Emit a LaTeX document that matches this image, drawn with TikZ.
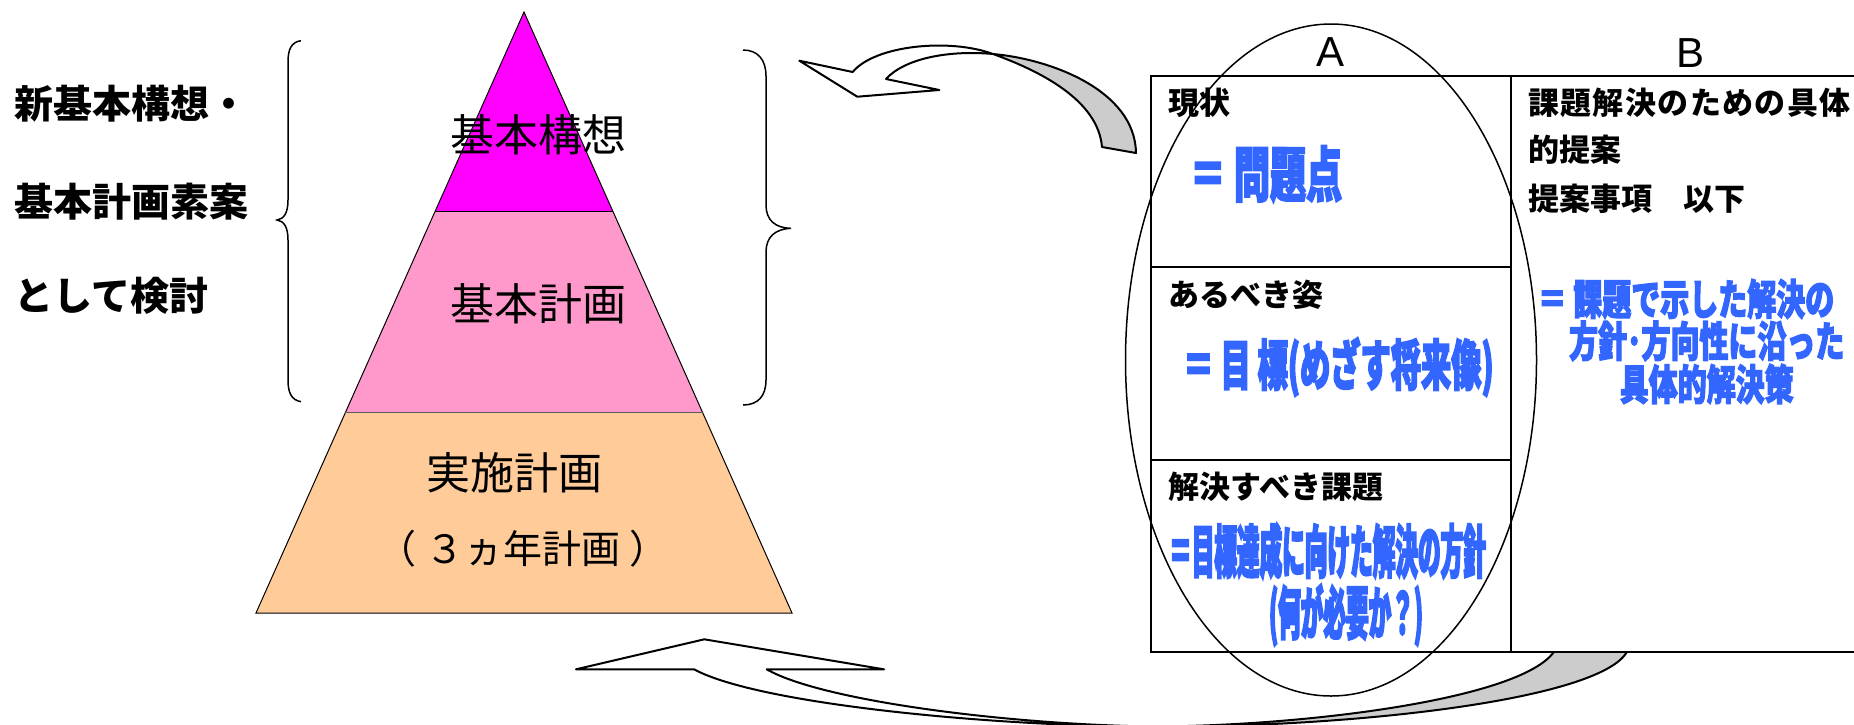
\documentclass[tikz,border=0pt]{standalone}
\usepackage{fontspec}
\setmainfont{Liberation Sans}
\newfontfamily\jpfont{Noto Sans CJK JP}
\newfontfamily\bluefontA[FakeStretch=0.6, BoldFeatures={FakeBold=2.5}]{Noto Sans CJK JP}
\newfontfamily\bluefontB[FakeStretch=0.55, BoldFeatures={FakeBold=2.5}]{Noto Sans CJK JP}
\newfontfamily\bluefontC[FakeStretch=0.39, BoldFeatures={FakeBold=2.5}]{Noto Sans CJK JP}
\newfontfamily\bluefontD[FakeStretch=0.69, BoldFeatures={FakeBold=2.5}]{Noto Sans CJK JP}
\usepackage{tikz}
\usetikzlibrary{calc, positioning}

\definecolor{pyrtop}{HTML}{FF00FF}
\definecolor{pyrmid}{HTML}{FF99CC}
\definecolor{pyrbot}{HTML}{FFCC99}
\definecolor{ansblue}{HTML}{3366FF}
\definecolor{backgray}{HTML}{CCCCCC}

\tikzset{
  pyrtext/.style={font=\jpfont\fontsize{44}{52}\selectfont, inner sep=0pt},
  sidelbl/.style={font=\jpfont\bfseries\fontsize{39}{46}\selectfont, inner sep=0pt, anchor=west},
  celllbl/.style={font=\jpfont\bfseries\fontsize{31}{38}\selectfont, inner sep=0pt, anchor=west},
  colhead/.style={font=\fontsize{42}{50}\selectfont, inner sep=0pt},
  bluetxt/.style={text=ansblue, inner sep=0pt},
  arrowline/.style={draw=black, line width=2pt, line join=round},
  tableline/.style={line width=2pt},
  bracket/.style={line width=1.5pt}
}

\begin{document}
\begin{tikzpicture}[x=1pt,y=-1pt]
    \useasboundingbox (0,0) rectangle (1854,724);
    \clip (0,0) rectangle (1854,724);

    % Pyramid corners and layer borders
    \coordinate (apex) at (524,12);
    \coordinate (bl) at (256,613);
    \coordinate (br) at (792,613);
    \coordinate (l1) at ($(apex)!0.3323!(bl)$);
    \coordinate (r1) at ($(apex)!0.3323!(br)$);
    \coordinate (l2) at ($(apex)!0.6667!(bl)$);
    \coordinate (r2) at ($(apex)!0.6667!(br)$);

    % Pyramid layers
    \fill[pyrtop] (apex) -- (l1) -- (r1) -- cycle;
    \fill[pyrmid] (l1) -- (l2) -- (r2) -- (r1) -- cycle;
    \fill[pyrbot] (l2) -- (bl) -- (br) -- (r2) -- cycle;
    \draw[line width=1pt] (apex) -- (bl) -- (br) -- cycle;
    \draw[line width=1.5pt] (l1) -- (r1);
    \draw[line width=1.5pt, black!65] (l2) -- (r2);

    % Layer names
    \node[pyrtext] (kousou) at (538,135) {基本構想};
    \node[pyrtext] (keikaku) at (538,304) {基本計画};
    \node[pyrtext] (jisshi) at (514,473) {実施計画};
    \node[pyrtext, font=\jpfont\fontsize{39}{46}\selectfont] (sannen) at (523,549) {（ ３ヵ年計画 ）};

    % Braces round the two upper layers
    \draw[bracket] (301,40.7) .. controls (291,42) and (288,50) .. (288,62) -- (288,200)
        .. controls (288,213) and (284,219) .. (277,220)
        .. controls (284,221) and (288,227) .. (288,240) -- (288,380)
        .. controls (288,392) and (291,400) .. (301,401.7);
    \draw[bracket] (743,50) .. controls (758,50) and (766,60) .. (766,76) -- (766,205)
        .. controls (766,220) and (775,228) .. (791,228.3)
        .. controls (775,229) and (766,237) .. (766,252) -- (766,380)
        .. controls (766,396) and (758,405) .. (743,405);

    % Text on the left
    \node[sidelbl] (side1) at (14,104) {新基本構想・};
    \node[sidelbl] (side2) at (14,202) {基本計画素案};
    \node[sidelbl] (side3) at (14,296) {として検討};

    % Upper twisted arrow (from the table back to the pyramid)
    \coordinate (ta-tip) at (799.3,60.7);
    \coordinate (ta-o) at (852.7,72);
    \coordinate (ta-w1) at (857.3,96.7);
    \coordinate (ta-w2) at (939.3,90);
    \coordinate (ta-i) at (886,79);
    \coordinate (ta-x) at (993,54);
    \coordinate (ta-e1) at (1102,147);
    \coordinate (ta-e2) at (1136,153);
    \filldraw[arrowline, fill=white] (ta-tip) -- (ta-o)
        .. controls (875,45) and (950,38) .. (ta-x)
        .. controls (950,50) and (905,58) .. (ta-i)
        -- (ta-w2) -- (ta-w1) -- cycle;
    \filldraw[arrowline, fill=backgray] (ta-x)
        .. controls (1040,71) and (1098,100) .. (ta-e1) -- (ta-e2)
        .. controls (1135,90) and (1050,59) .. (ta-x) -- cycle;

    % Lower twisted arrow
    \coordinate (ba-tip) at (704.3,639.3);
    \coordinate (ba-w1) at (576,669.3);
    \coordinate (ba-w2) at (884,669.3);
    \coordinate (ba-o) at (694,669.3);
    \coordinate (ba-i) at (766.7,669.3);
    \coordinate (ba-x) at (1150,726.5);
    \coordinate (ba-e1) at (1554,651.7);
    \coordinate (ba-e2) at (1627,651.7);
    \filldraw[arrowline, fill=white] (ba-tip) -- (ba-w2) -- (ba-i)
        .. controls (820,700) and (1000,724) .. (ba-x)
        .. controls (1000,726.5) and (760,705) .. (ba-o)
        -- (ba-w1) -- cycle;
    \filldraw[arrowline, fill=backgray] (ba-x)
        .. controls (1300,726.5) and (1520,700) .. (ba-e1) -- (ba-e2)
        .. controls (1600,700) and (1350,728) .. (ba-x) -- cycle;

    % Table
    \draw[tableline, fill=white] (1151,76) rectangle (1880,651.7);
    \draw[tableline] (1510.7,76) -- (1510.7,651.7);
    \draw[tableline] (1151,267.3) -- (1510.7,267.3);
    \draw[tableline] (1151,460) -- (1510.7,460);

    % Column heads
    \node[colhead] (colA) at (1330.7,51.7) {A};
    \node[colhead] (colB) at (1690.7,53.3) {B};

    % Cell titles
    \node[celllbl] (genjou) at (1168,102.5) {現状};
    \node[celllbl] (arubeki) at (1168,295) {あるべき姿};
    \node[celllbl] (kaiketsu) at (1168,486.7) {解決すべき課題};
    \node[celllbl] (teian1) at (1528,102.5) {\addfontfeature{LetterSpace=4.5}課題解決のための具体};
    \node[celllbl] (teian2) at (1528,150) {的提案};
    \node[celllbl] (teian3) at (1528,199) {提案事項　以下};

    % Blue answers
    \node[bluetxt, font=\bluefontA\bfseries\fontsize{60}{64}\selectfont] (mondai) at (1266,174) {＝ 問題点};
    \node[bluetxt, font=\bluefontB\bfseries\fontsize{55}{60}\selectfont] (mokuhyou) at (1338.5,367) {＝ 目 標(めざす将来像)};
    \node[bluetxt, font=\bluefontC\bfseries\fontsize{58}{64}\selectfont] (houshin1) at (1327.5,551) {＝目標達成に向けた解決の方針};
    \node[bluetxt, font=\bluefontC\bfseries\fontsize{58}{64}\selectfont] (houshin2) at (1346,615) {(何が必要か？)};
    \node[bluetxt, font=\bluefontD\bfseries\fontsize{42}{42.5}\selectfont] (gutai1) at (1686,299) {＝ 課題で示した解決の};
    \node[bluetxt, font=\bluefontD\bfseries\fontsize{42}{42.5}\selectfont] (gutai2) at (1706.7,341) {方針･方向性に沿った};
    \node[bluetxt, font=\bluefontD\bfseries\fontsize{42}{42.5}\selectfont] (gutai3) at (1706.7,384) {具体的解決策};

    % Ellipse round column A
    \draw[line width=1.5pt] (1331,360) ellipse [x radius=205.5, y radius=336];
\end{tikzpicture}
\end{document}
